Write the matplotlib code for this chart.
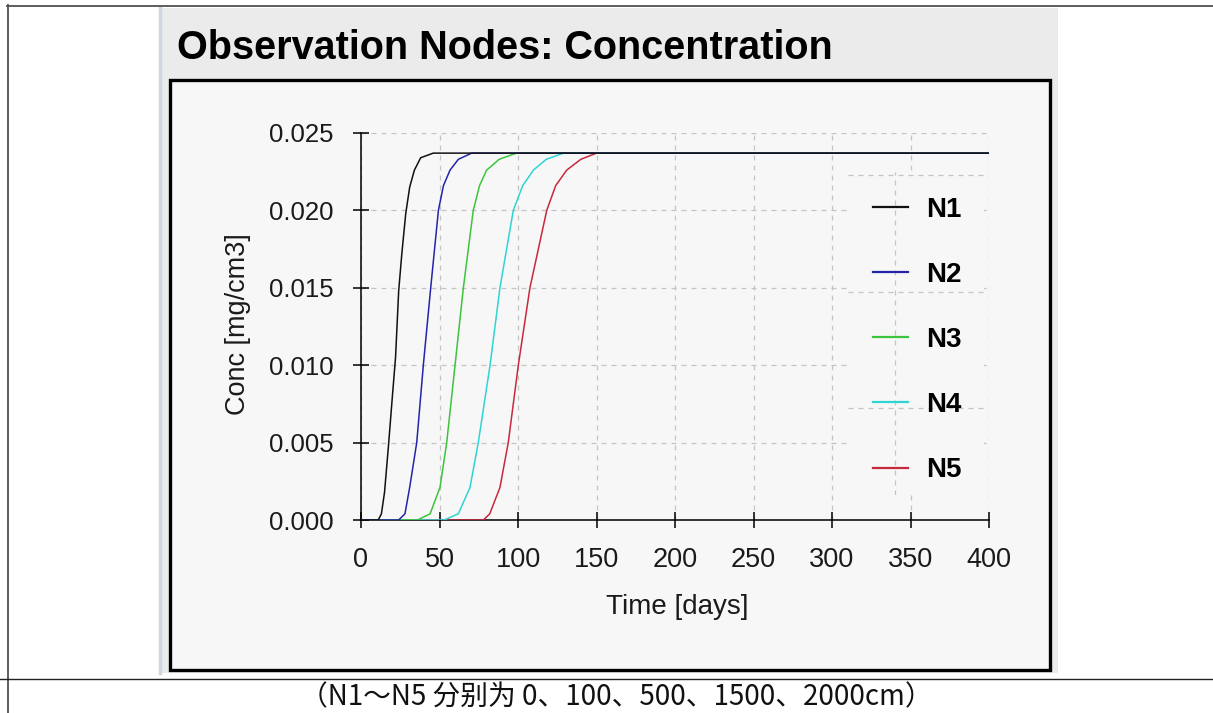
import matplotlib.pyplot as plt
import matplotlib.patches as patches
from matplotlib.lines import Line2D

# Breakthrough curves at the observation nodes (time in days, conc in mg/cm3)
n1_t = [0, 11, 13, 15, 17.5, 20, 22, 24, 26, 28.5, 31, 34, 38, 46, 400]
n1_c = [0, 0, 0.0004, 0.0018, 0.0048, 0.0080, 0.0105, 0.0148, 0.0172, 0.0198,
        0.0215, 0.0226, 0.0234, 0.0237, 0.0237]

n2_t = [0, 24, 28, 31, 35.5, 39.7, 44.4, 49.3, 52.5, 56.7, 62, 70.5, 400]
n2_c = [0, 0, 0.0004, 0.0021, 0.005, 0.010, 0.015, 0.020, 0.0216, 0.0226,
        0.0233, 0.0237, 0.0237]

n3_t = [0, 36, 44, 50.3, 54.6, 59.9, 65.2, 71.5, 75.5, 80, 88, 99, 400]
n3_c = [0, 0, 0.0004, 0.0021, 0.005, 0.010, 0.015, 0.020, 0.0216, 0.0226,
        0.0233, 0.0237, 0.0237]

n4_t = [0, 53, 62, 69.4, 74.7, 82.2, 88.5, 97, 103, 109.8, 118, 129, 400]
n4_c = [0, 0, 0.0004, 0.0021, 0.005, 0.010, 0.015, 0.020, 0.0216, 0.0226,
        0.0233, 0.0237, 0.0237]

n5_t = [0, 78, 82, 88.5, 93.8, 100.2, 107.6, 118.3, 124, 131, 140, 150, 400]
n5_c = [0, 0, 0.0004, 0.0021, 0.005, 0.010, 0.015, 0.020, 0.0216, 0.0226,
        0.0233, 0.0237, 0.0237]

labels = ["N1", "N2", "N3", "N4", "N5"]
colors = ["#111111", "#2424aa", "#3cc43c", "#30d4d4", "#c8283c"]
series = [(n1_t, n1_c), (n2_t, n2_c), (n3_t, n3_c), (n4_t, n4_c), (n5_t, n5_c)]

x_ticks = [0, 50, 100, 150, 200, 250, 300, 350, 400]
y_ticks = [0.000, 0.005, 0.010, 0.015, 0.020, 0.025]
y_ticklabels = ["0.000", "0.005", "0.010", "0.015", "0.020", "0.025"]

caption = "（N1～N5 分别为 0、100、500、1500、2000cm）"

W, H = 1213, 713


def fx(px):
    return px / W


def fy(py):
    return 1 - py / H


fig = plt.figure(figsize=(W / 100, H / 100), dpi=100, facecolor="white")

# Table borders around the screenshot cell
fig.add_artist(Line2D([fx(7), 1], [fy(5.5), fy(5.5)], color="#505050", lw=1.3))
fig.add_artist(Line2D([fx(7.5), fx(7.5)], [fy(5), 0], color="#505050", lw=1.3))
fig.add_artist(Line2D([0, 1], [fy(679), fy(679)], color="#222222", lw=1.0))

# Window panel and plot frame
fig.add_artist(patches.Rectangle((fx(160), fy(673)), fx(1058) - fx(160), fy(8) - fy(673),
                                 transform=fig.transFigure, facecolor="#ebebeb",
                                 edgecolor="none", zorder=-3))
fig.add_artist(Line2D([fx(160), fx(160)], [fy(8), fy(673)], color="#cfd6df", lw=2.5, zorder=-2.5))
fig.add_artist(patches.Rectangle((fx(170), fy(670)), fx(1050) - fx(170), fy(80) - fy(670),
                                 transform=fig.transFigure, facecolor="#f7f7f7",
                                 edgecolor="black", lw=2.4, zorder=-2))

fig.text(fx(177), fy(48), "Observation Nodes: Concentration", fontsize=28.5,
         fontweight="bold", family="Liberation Sans", va="center", ha="left")

ax = fig.add_axes([fx(361), fy(520), (989 - 361) / W, (520 - 133) / H])
ax.set_facecolor("none")

# Draw later nodes first so N1 lies on top of the shared plateau
for (t, c), col, lab in reversed(list(zip(series, colors, labels))):
    ax.plot(t, c, color=col, lw=1.1, label=lab, zorder=3)

ax.set_xlim(0, 400)
ax.set_ylim(0, 0.025)
ax.set_xticks(x_ticks)
ax.set_yticks(y_ticks)
ax.set_yticklabels(y_ticklabels)
ax.grid(True, color="#c4c4c4", linestyle=(0, (4, 4)), lw=0.9)
ax.set_axisbelow(True)

for side in ["top", "right"]:
    ax.spines[side].set_visible(False)
for side in ["left", "bottom"]:
    ax.spines[side].set_linewidth(1.1)

ax.tick_params(axis="both", direction="inout", length=11, width=1.1, labelcolor="#1a1a1a")
ax.tick_params(axis="y", pad=14, labelsize=18.5)
ax.tick_params(axis="x", pad=14, labelsize=19.5)
for lbl in ax.get_xticklabels() + ax.get_yticklabels():
    lbl.set_family("Liberation Sans")

ax.set_xlabel("Time [days]", fontsize=20, family="Liberation Sans", color="#1a1a1a")
ax.set_ylabel("Conc [mg/cm3]", fontsize=19.5, family="Liberation Sans", color="#1a1a1a")
ax.xaxis.label.set_va("center")
ax.yaxis.label.set_va("center")
ax.xaxis.set_label_coords((677 - 361) / 628, (520 - 607) / 387)
ax.yaxis.set_label_coords((238 - 361) / 628, (520 - 324) / 387)

# Legend panel with its own dashed grid
lax = fig.add_axes([fx(848), fy(495), (984 - 848) / W, (495 - 172) / H], zorder=2)
lax.set_facecolor("#f7f7f7")
lax.set_xlim(0, 1)
lax.set_ylim(0, 1)
lax.set_xticks([0.345])
lax.set_yticks([0.27, 0.63, 0.99])
lax.tick_params(length=0, labelbottom=False, labelleft=False)
lax.grid(True, color="#c4c4c4", linestyle=(0, (4, 4)), lw=0.9)
for s in lax.spines.values():
    s.set_visible(False)

handles, labs = ax.get_legend_handles_labels()
order = [labs.index(l) for l in labels]
leg = lax.legend([handles[i] for i in order], labels, loc="center left",
                 bbox_to_anchor=(fx(873), fy(340)), bbox_transform=fig.transFigure,
                 frameon=False, borderpad=0, borderaxespad=0, handlelength=1.25,
                 handletextpad=0.65, labelspacing=1.41,
                 prop={"family": "Liberation Sans", "weight": "bold", "size": 20})
for line in leg.get_lines():
    line.set_linewidth(1.6)

fig.text(fx(616), fy(697), caption, fontsize=20, ha="center", va="center",
         family=["Noto Sans CJK SC", "DejaVu Sans"], color="#111111")

fig.savefig("out.png", dpi=100, facecolor="white")
